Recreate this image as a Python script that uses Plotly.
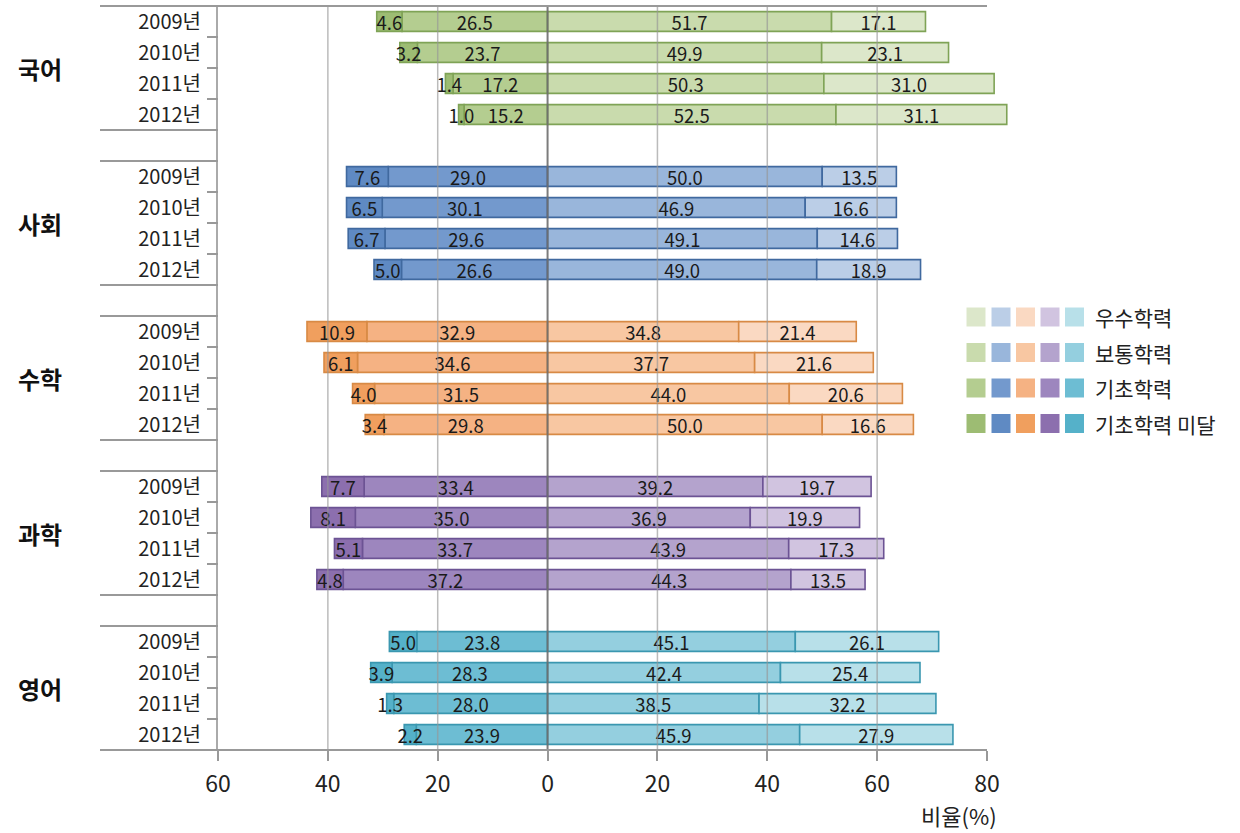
import plotly.graph_objects as go

# ---------------- data ----------------
subjects = ["국어", "사회", "수학", "과학", "영어"]
years = ["2009년", "2010년", "2011년", "2012년"]
levels = ["우수학력", "보통학력", "기초학력", "기초학력 미달"]

below_basic = [[4.6, 3.2, 1.4, 1.0], [7.6, 6.5, 6.7, 5.0], [10.9, 6.1, 4.0, 3.4],
               [7.7, 8.1, 5.1, 4.8], [5.0, 3.9, 1.3, 2.2]]
basic = [[26.5, 23.7, 17.2, 15.2], [29.0, 30.1, 29.6, 26.6], [32.9, 34.6, 31.5, 29.8],
         [33.4, 35.0, 33.7, 37.2], [23.8, 28.3, 28.0, 23.9]]
normal = [[51.7, 49.9, 50.3, 52.5], [50.0, 46.9, 49.1, 49.0], [34.8, 37.7, 44.0, 50.0],
          [39.2, 36.9, 43.9, 44.3], [45.1, 42.4, 38.5, 45.9]]
excellent = [[17.1, 23.1, 31.0, 31.1], [13.5, 16.6, 14.6, 18.9], [21.4, 21.6, 20.6, 16.6],
             [19.7, 19.9, 17.3, 13.5], [26.1, 25.4, 32.2, 27.9]]

x_ticks = [-60, -40, -20, 0, 20, 40, 60, 80]
x_title = "비율(%)"

# ---------------- styles ----------------
# per subject: [미달, 기초, 보통, 우수, border]
palette = {
    "국어": ["#9dbc73", "#b4cd90", "#c9dbad", "#dce7ca", "#7fa356"],
    "사회": ["#5f8ac3", "#7399cd", "#99b6db", "#bbcee7", "#40699f"],
    "수학": ["#f09f5e", "#f5b283", "#f8c7a2", "#fad9c2", "#d88a45"],
    "과학": ["#8c6fae", "#9d86be", "#b4a3cd", "#d1c4e0", "#6c5394"],
    "영어": ["#55b1c9", "#6dbdd3", "#94cfdf", "#b8e0e9", "#3a97b0"],
}
FONT = "Noto Sans CJK KR"
W, H = 1240, 833
L, R, T, B = 218, 228, 6, 83
PW, PH = W - L - R, H - T - B
PX_PER_UNIT = (987 - 218) / 140.0
X_MIN = x_ticks[0]
X_MAX = X_MIN + PW / PX_PER_UNIT


def px_x(px):
    return (px - L) / PW


def px_y(py):
    return (H - B - py) / PH


rows, row_labels, row_subj = [], [], []
for g, s in enumerate(subjects):
    for j, yr in enumerate(years):
        rows.append(g * 5 + j)
        row_labels.append(yr)
        row_subj.append(s)


def flat(arr):
    return [v for grp in arr for v in grp]


series = [  # (values, sign, palette index)
    (basic, -1, 1),
    (below_basic, -1, 0),
    (normal, 1, 2),
    (excellent, 1, 3),
]

fig = go.Figure()
for vals, sign, ci in series:
    fv = flat(vals)
    fig.add_trace(go.Bar(
        x=[sign * v for v in fv],
        y=rows,
        orientation="h",
        width=0.64,
        marker=dict(color=[palette[s][ci] for s in row_subj],
                    line=dict(color=[palette[s][4] for s in row_subj], width=1.6)),
        text=[f"{v:.1f}" for v in fv],
        textposition="inside",
        insidetextanchor="middle",
        textangle=0,
        constraintext="none",
        textfont=dict(family=FONT, size=18.5, color="#1a1a1a"),
        cliponaxis=False,
        hoverinfo="skip",
        showlegend=False,
    ))

x80 = (x_ticks[-1] - X_MIN) / (X_MAX - X_MIN)

shapes = []
# vertical grid lines above bars
for xv in [-40, -20, 20, 40, 60]:
    shapes.append(dict(type="line", xref="x", yref="paper", x0=xv, x1=xv, y0=0, y1=1,
                       line=dict(color="rgba(150,150,150,0.65)", width=1.5), layer="above"))
shapes.append(dict(type="line", xref="x", yref="paper", x0=0, x1=0, y0=0, y1=1,
                   line=dict(color="rgba(110,110,110,0.9)", width=2), layer="above"))
# top border
shapes.append(dict(type="line", xref="paper", yref="paper", x0=px_x(100), x1=x80, y0=1, y1=1,
                   line=dict(color="#999999", width=2)))
# bottom axis line
shapes.append(dict(type="line", xref="paper", yref="paper", x0=px_x(100), x1=x80, y0=0, y1=0,
                   line=dict(color="#999999", width=2)))
# group separators and small ticks
for g in range(len(subjects)):
    top = g * 5 - 0.5
    bot = g * 5 + 3.5
    for yy in (top, bot):
        if g == 0 and yy == top:
            continue
        if g == len(subjects) - 1 and yy == bot:
            continue
        shapes.append(dict(type="line", xref="paper", yref="y", x0=px_x(100), x1=0, y0=yy, y1=yy,
                           line=dict(color="#999999", width=2)))
    for k in range(3):
        yy = g * 5 + k + 0.5
        shapes.append(dict(type="line", xref="paper", yref="y", x0=px_x(207), x1=0, y0=yy, y1=yy,
                           line=dict(color="#999999", width=2)))

# custom legend
legend_cols_px = [966.5, 991.5, 1016, 1040.5, 1065]
legend_rows_px = [317, 352.5, 388, 423.5]
sq = 19
annotations = []
for ri, lvl in enumerate(levels):
    ci = 3 - ri
    cy = legend_rows_px[ri]
    for k, s in enumerate(subjects):
        x0 = legend_cols_px[k]
        shapes.append(dict(type="rect", xref="paper", yref="paper",
                           x0=px_x(x0), x1=px_x(x0 + sq), y0=px_y(cy + sq / 2), y1=px_y(cy - sq / 2),
                           fillcolor=palette[s][ci], line=dict(width=0)))
    annotations.append(dict(xref="paper", yref="paper", x=px_x(1093), y=px_y(cy), text=lvl,
                            showarrow=False, xanchor="left", yanchor="middle",
                            font=dict(family=FONT, size=21, color="#222222")))

# subject labels
for g, s in enumerate(subjects):
    annotations.append(dict(xref="paper", yref="y", x=px_x(40), y=g * 5 + 1.5, text=f"<b>{s}</b>",
                            showarrow=False, xanchor="center", yanchor="middle",
                            font=dict(family=FONT, size=24, color="#111111")))

# axis title
annotations.append(dict(xref="paper", yref="paper", x=px_x(999), y=px_y(815), text=x_title,
                        showarrow=False, xanchor="right", yanchor="middle",
                        font=dict(family=FONT, size=22, color="#222222")))

fig.update_layout(
    width=W, height=H,
    margin=dict(l=L, r=R, t=T, b=B, pad=0),
    barmode="relative",
    plot_bgcolor="white",
    paper_bgcolor="white",
    font=dict(family=FONT, color="#222222"),
    shapes=shapes,
    annotations=annotations,
    xaxis=dict(range=[X_MIN, X_MAX], tickvals=x_ticks, ticktext=[str(abs(v)) for v in x_ticks],
               ticks="outside", ticklen=10, tickwidth=2, tickcolor="#999999",
               showline=False, showgrid=False, zeroline=False, ticklabelstandoff=3,
               tickfont=dict(family=FONT, size=23, color="#222222")),
    yaxis=dict(range=[23.5, -0.5], tickvals=rows, ticktext=row_labels,
               ticks="", showline=True, linecolor="#aaaaaa", linewidth=2,
               showgrid=False, zeroline=False, ticklabelstandoff=11,
               tickfont=dict(family=FONT, size=20, color="#222222")),
)

fig.write_html("out.html", config={"displayModeBar": False},
               post_script="document.body.style.margin='0';document.body.style.overflow='hidden';")
